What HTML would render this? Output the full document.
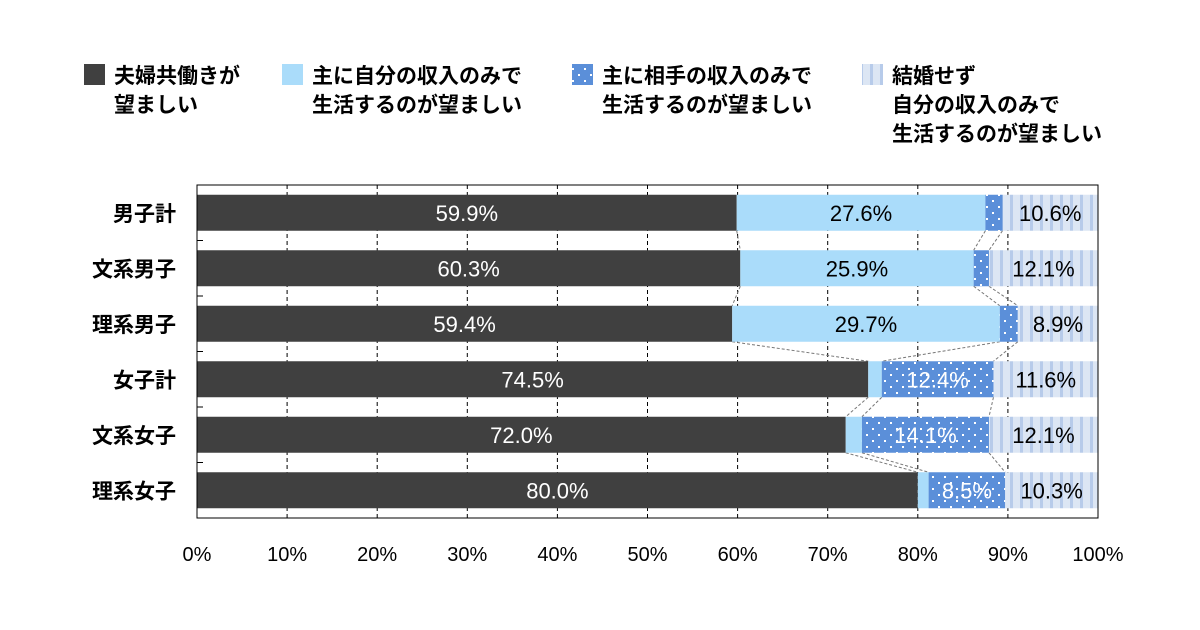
<!DOCTYPE html>
<html><head><meta charset="utf-8"><style>
body{margin:0;background:#fff;}
svg{display:block;font-family:"Liberation Sans","Noto Sans CJK JP",sans-serif;}
</style></head><body>
<svg id="c" width="1200" height="630">
<defs>
<pattern id="dots" width="12" height="12" patternUnits="userSpaceOnUse"><rect width="12" height="12" fill="#5b8fd9"/><rect x="2" y="2" width="2" height="2" fill="#fff"/><rect x="8" y="8" width="2" height="2" fill="#fff"/></pattern>
<pattern id="stripes" width="10" height="10" patternUnits="userSpaceOnUse"><rect width="10" height="10" fill="#dce6f4"/><rect x="0" width="3" height="10" fill="#b7cbea"/></pattern>
</defs>
<g id="legend"></g>
<g id="plot"></g>
</svg>
<script>
const categories=["男子計","文系男子","理系男子","女子計","文系女子","理系女子"];
const seriesA=[59.9,60.3,59.4,74.5,72.0,80.0];
const seriesB=[27.6,25.9,29.7,1.5,1.8,1.2];
const seriesC=[1.9,1.7,2.0,12.4,14.1,8.5];
const seriesD=[10.6,12.1,8.9,11.6,12.1,10.3];
const ticks=[0,10,20,30,40,50,60,70,80,90,100];
const legendLabels=[["夫婦共働きが","望ましい"],["主に自分の収入のみで","生活するのが望ましい"],["主に相手の収入のみで","生活するのが望ましい"],["結婚せず","自分の収入のみで","生活するのが望ましい"]];
const NS="http://www.w3.org/2000/svg";
const X0=197,X1=1098,Y0=185,Y1=518;
const xs=v=>X0+(X1-X0)*v/100;
const band=(Y1-Y0)/categories.length;
const yc=i=>Y0+band*(i+0.5);
const BH=36;
const g=document.getElementById('plot');
function el(t,a,p){const e=document.createElementNS(NS,t);for(const k in a)e.setAttribute(k,a[k]);(p||g).appendChild(e);return e;}
const fills=["#404040","#aadcfa","url(#dots)","url(#stripes)"];
const textCol=["#fff","#000","#fff","#000"];
const series=[seriesA,seriesB,seriesC,seriesD];
ticks.forEach(t=>{
 if(t>0&&t<100){const l=el('line',{x1:xs(t),x2:xs(t),y1:Y0,y2:Y1,stroke:'#000','stroke-dasharray':'4,3','stroke-width':1});
 
 }
 const tx=el('text',{x:xs(t),y:561,'text-anchor':'middle','font-size':20,fill:'#000'});
 
 
 tx.textContent=t+'%';
});
for(let i=0;i<categories.length-1;i++){
 let ca=0,cb=0;
 for(let s=0;s<3;s++){ca+=series[s][i];cb+=series[s][i+1];
  const l=el('line',{x1:xs(ca),y1:yc(i)+BH/2,x2:xs(cb),y2:yc(i+1)-BH/2,stroke:'#777','stroke-dasharray':'3,2','stroke-width':1});
  
  }
}
categories.forEach((c,i)=>{
 let cum=0;
 series.forEach((s,k)=>{
  const v=s[i];
  const r=el('rect',{x:xs(cum),y:yc(i)-BH/2,width:xs(cum+v)-xs(cum),height:BH,fill:fills[k]});
  
  
  if(v>=5){const t=el('text',{x:(xs(cum)+xs(cum+v))/2,y:yc(i)+8,'text-anchor':'middle','font-size':22,fill:textCol[k]});
   
   
   t.textContent=v.toFixed(1)+'%';}
  cum+=v;
 });
 const ct=el('text',{x:176,y:yc(i)+8,'text-anchor':'end','font-size':21,'font-weight':'bold',fill:'#000'});
 
 
 ct.textContent=c;
 if(i>0){const tk=el('line',{x1:X0,x2:X0+6,y1:Y0+band*i,y2:Y0+band*i,stroke:'#000'});
  
  }
});
const fr=el('rect',{x:X0,y:Y0,width:X1-X0,height:Y1-Y0,fill:'none',stroke:'#000','stroke-width':1});


const lg=document.getElementById('legend');
const lx=[84,282,572,862];
legendLabels.forEach((ls,k)=>{
 const sw=el('rect',{x:lx[k],y:64,width:21,height:21,fill:fills[k]},lg);
 
 
 ls.forEach((t,j)=>{
  const tx=el('text',{x:(k==3&&j>0)?lx[k]+30:lx[k]+30,y:83+j*29,'font-size':21,'font-weight':'bold',fill:'#000'},lg);
  
  
  tx.textContent=t;
 });
});
</script>
</body></html>
